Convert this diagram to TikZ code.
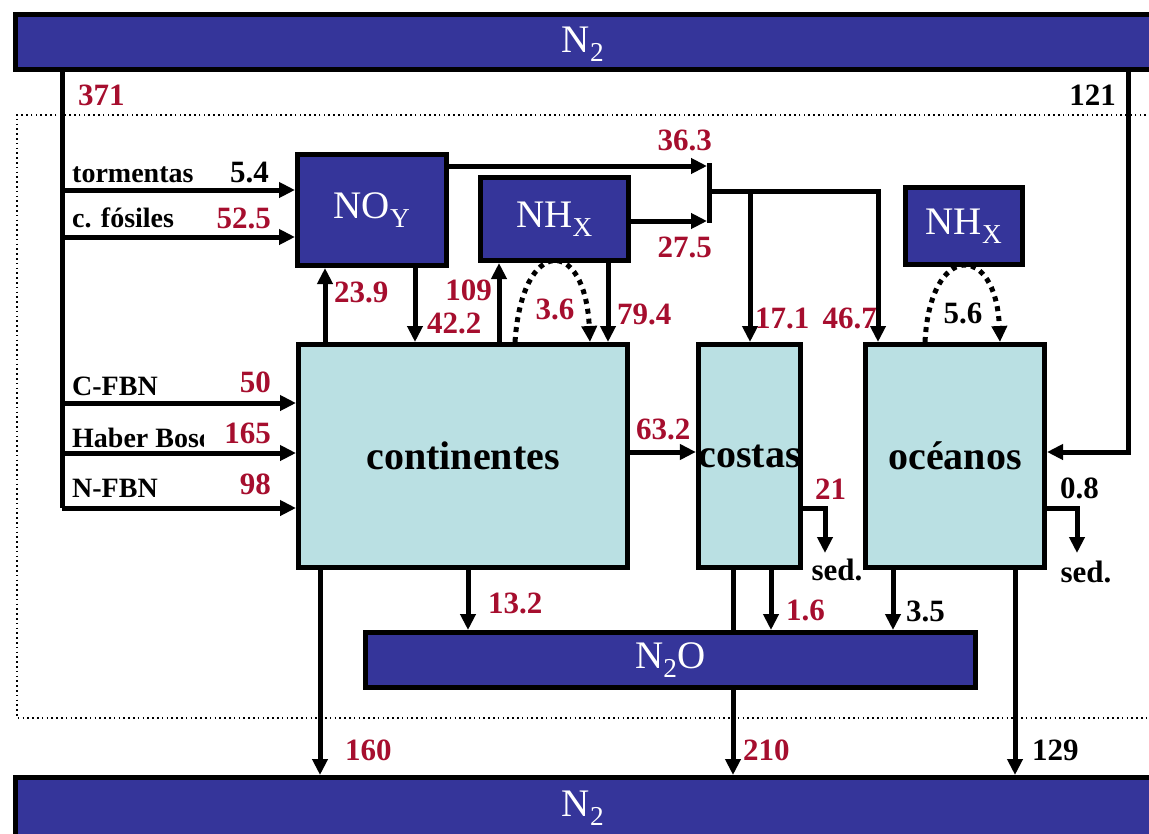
\documentclass[tikz,border=0pt]{standalone}
\usepackage{fontspec}
\setmainfont{Liberation Serif}
\usetikzlibrary{arrows.meta,calc}
\definecolor{dblue}{RGB}{53,53,154}
\definecolor{lcyan}{RGB}{186,224,227}
\definecolor{nred}{RGB}{166,14,46}
\tikzset{
  bluebox/.style={draw=black,line width=5pt,fill=dblue,text=white,inner sep=0pt,
    font=\fontsize{39}{41}\selectfont},
  cyanbox/.style={draw=black,line width=5pt,fill=lcyan,text=black,inner sep=0pt,
    font=\bfseries\fontsize{40}{42}\selectfont},
  ln/.style={draw=black,line width=5pt},
  arr/.style={draw=black,line width=5pt,-{Triangle[length=16pt,width=15pt]}},
  dotarr/.style={draw=black,line width=5pt,dash pattern=on 5pt off 5pt,-{Triangle[length=16pt,width=15pt]}},
  lbl/.style={inner sep=0pt,font=\bfseries\fontsize{28}{30}\selectfont,text=black},
  num/.style={inner sep=0pt,font=\bfseries\fontsize{31}{33}\selectfont,text=black},
  rnum/.style={num,text=nred},
}
\begin{document}
\begin{tikzpicture}[x=1pt,y=-1pt]
\useasboundingbox[fill=white] (0,0) rectangle (1149,833);
% dotted boundary
\draw[line width=1.6pt,dash pattern=on 1.6pt off 3.2pt] (1170,115) -- (17,115) -- (17,718) -- (1170,718);
% boxes
\node[bluebox,minimum width=1145pt,minimum height=55pt] (N2top) at (587.5,42) {};
\node[text=white,font=\fontsize{39}{41}\selectfont,inner sep=0pt] (N2toplbl) at (583,44) {N\textsubscript{2}};
\node[bluebox,minimum width=1145pt,minimum height=65pt] (N2bot) at (587.5,810) {};
\node[text=white,font=\fontsize{39}{41}\selectfont,inner sep=0pt] (N2botlbl) at (583,808) {N\textsubscript{2}};
\node[bluebox,minimum width=149pt,minimum height=111pt] (NOY) at (372,210) {NO\textsubscript{Y}};
\node[bluebox,minimum width=148pt,minimum height=83pt] (NHX) at (554.5,219) {NH\textsubscript{X}};
\node[bluebox,minimum width=117pt,minimum height=77pt] (NHXo) at (964,226) {NH\textsubscript{X}};
\node[cyanbox,minimum width=329pt,minimum height=223pt] (cont) at (463,456) {continentes};
\node[cyanbox,minimum width=100pt,minimum height=223pt] (costas) at (749.5,456) {costas};
\node[cyanbox,minimum width=179pt,minimum height=223pt] (oceanos) at (955,456) {océanos};
\node[bluebox,minimum width=610pt,minimum height=55pt] (N2O) at (670.5,660) {N\textsubscript{2}O};

% left trunk
\coordinate (tL) at (62,508);
\draw[ln] (62,0 |- N2top.south) -- (tL);
\coordinate (iT) at (62,190);
\coordinate (iF) at (62,237);
\coordinate (iC) at (62,403);
\coordinate (iH) at (62,453);
\draw[arr] (iT) -- (iT -| NOY.west);
\draw[arr] (iF) -- (iF -| NOY.west);
\draw[arr] (iC) -- (iC -| cont.west);
\draw[arr] (iH) -- (iH -| cont.west);
\draw[arr] (tL) -- (tL -| cont.west);
% right trunk
\coordinate (rC) at (1128,452);
\draw[arr] (1128,0 |- N2top.south) -- (rC) -- (rC -| oceanos.east);

% NOY / continentes exchanges
\draw[arr] (325,0 |- cont.north) -- (325,0 |- NOY.south);
\draw[arr] (415,0 |- NOY.south) -- (415,0 |- cont.north);
\draw[arr] (499,0 |- cont.north) -- (499,0 |- NHX.south);
\draw[arr] (608,0 |- NHX.south) -- (608,0 |- cont.north);
\draw[dotarr] (515,0 |- cont.north) .. controls (522,236) and (585,236) .. (590,0 |- cont.north);
\draw[dotarr] (925,0 |- oceanos.north) .. controls (930,242) and (996,242) .. (1000,0 |- oceanos.north);

% junction to costas / oceanos
\coordinate (jTop) at (709,163);
\coordinate (jBot) at (709,223);
\coordinate (jM) at (709,191);
\draw[line width=5pt] (jTop) -- (jBot);
\draw[arr] (NOY.east |- 0,166) -- (707,166);
\draw[arr] (NHX.east |- 0,221) -- (707,221);
\draw[arr] (jM) -- (878,191) -- (878,0 |- oceanos.north);
\draw[arr] (750,191) -- (750,0 |- costas.north);

% continentes -> costas
\draw[arr] (cont.east |- 0,452) -- (costas.west |- 0,452);

% sediments
\coordinate (sedc) at (825,553);
\coordinate (sedo) at (1077,553);
\draw[arr] (costas.east |- 0,508) -- (825,508) -- (sedc);
\draw[arr] (oceanos.east |- 0,508) -- (1077,508) -- (sedo);

% downward fluxes
\draw[arr] (320,0 |- cont.south) -- (320,0 |- N2bot.north);
\draw[arr] (468,0 |- cont.south) -- (468,0 |- N2O.north);
\draw[ln] (733,0 |- costas.south) -- (733,0 |- N2O.north);
\draw[arr] (733,0 |- N2O.south) -- (733,0 |- N2bot.north);
\draw[arr] (771,0 |- costas.south) -- (771,0 |- N2O.north);
\draw[arr] (893,0 |- oceanos.south) -- (893,0 |- N2O.north);
\draw[arr] (1015,0 |- oceanos.south) -- (1015,0 |- N2bot.north);

% labels
\node[rnum,anchor=base west] (l371) at (78,105) {371};
\node[num,anchor=base east] (l121) at (1116,105) {121};
\node[lbl,anchor=base west] (ltor) at (72,182) {tormentas};
\node[num,anchor=base east] (l54) at (269,182) {5.4};
\node[lbl,anchor=base west] (lfos) at (72,227) {c. fósiles};
\node[rnum,anchor=base east] (l525) at (271,228) {52.5};
\node[lbl,anchor=base west] (lcf) at (72,395) {C-FBN};
\node[rnum,anchor=base east] (l50) at (271,392) {50};
\begin{scope}
\clip (60,415) rectangle (203,450);
\node[lbl,anchor=base west] (lhb) at (72,447) {Haber Bosch};
\end{scope}
\node[rnum,anchor=base east] (l165) at (271,443) {165};
\node[lbl,anchor=base west] (lnf) at (72,497) {N-FBN};
\node[rnum,anchor=base east] (l98) at (271,494) {98};
\node[rnum,anchor=base east] (l363) at (712,150) {36.3};
\node[rnum,anchor=base east] (l275) at (712,257) {27.5};
\node[rnum,anchor=base west] (l239) at (334,302) {23.9};
\node[rnum,anchor=base east] (l109) at (492,300) {109};
\node[rnum,anchor=base west] (l422) at (427,333) {42.2};
\node[rnum,anchor=base] (l36) at (555,319) {3.6};
\node[rnum,anchor=base west] (l794) at (617,324) {79.4};
\node[rnum,anchor=base west] (l171) at (755,328) {17.1};
\node[rnum,anchor=base east] (l467) at (877,328) {46.7};
\node[num,anchor=base] (l56) at (963,323) {5.6};
\node[rnum,anchor=base west] (l632) at (636,439) {63.2};
\node[rnum,anchor=base west] (l21) at (815,499) {21};
\node[num,anchor=base west] (l08) at (1060,498) {0.8};
\node[num,anchor=base] (lsedc) at (837,580) {sed.};
\node[num,anchor=base] (lsedo) at (1086,582) {sed.};
\node[rnum,anchor=base west] (l132) at (488,613) {13.2};
\node[rnum,anchor=base west] (l16) at (786,620) {1.6};
\node[num,anchor=base west] (l35) at (906,621) {3.5};
\node[rnum,anchor=base west] (l160) at (345,760) {160};
\node[rnum,anchor=base west] (l210) at (743,760) {210};
\node[num,anchor=base west] (l129) at (1032,760) {129};
\end{tikzpicture}
\end{document}
